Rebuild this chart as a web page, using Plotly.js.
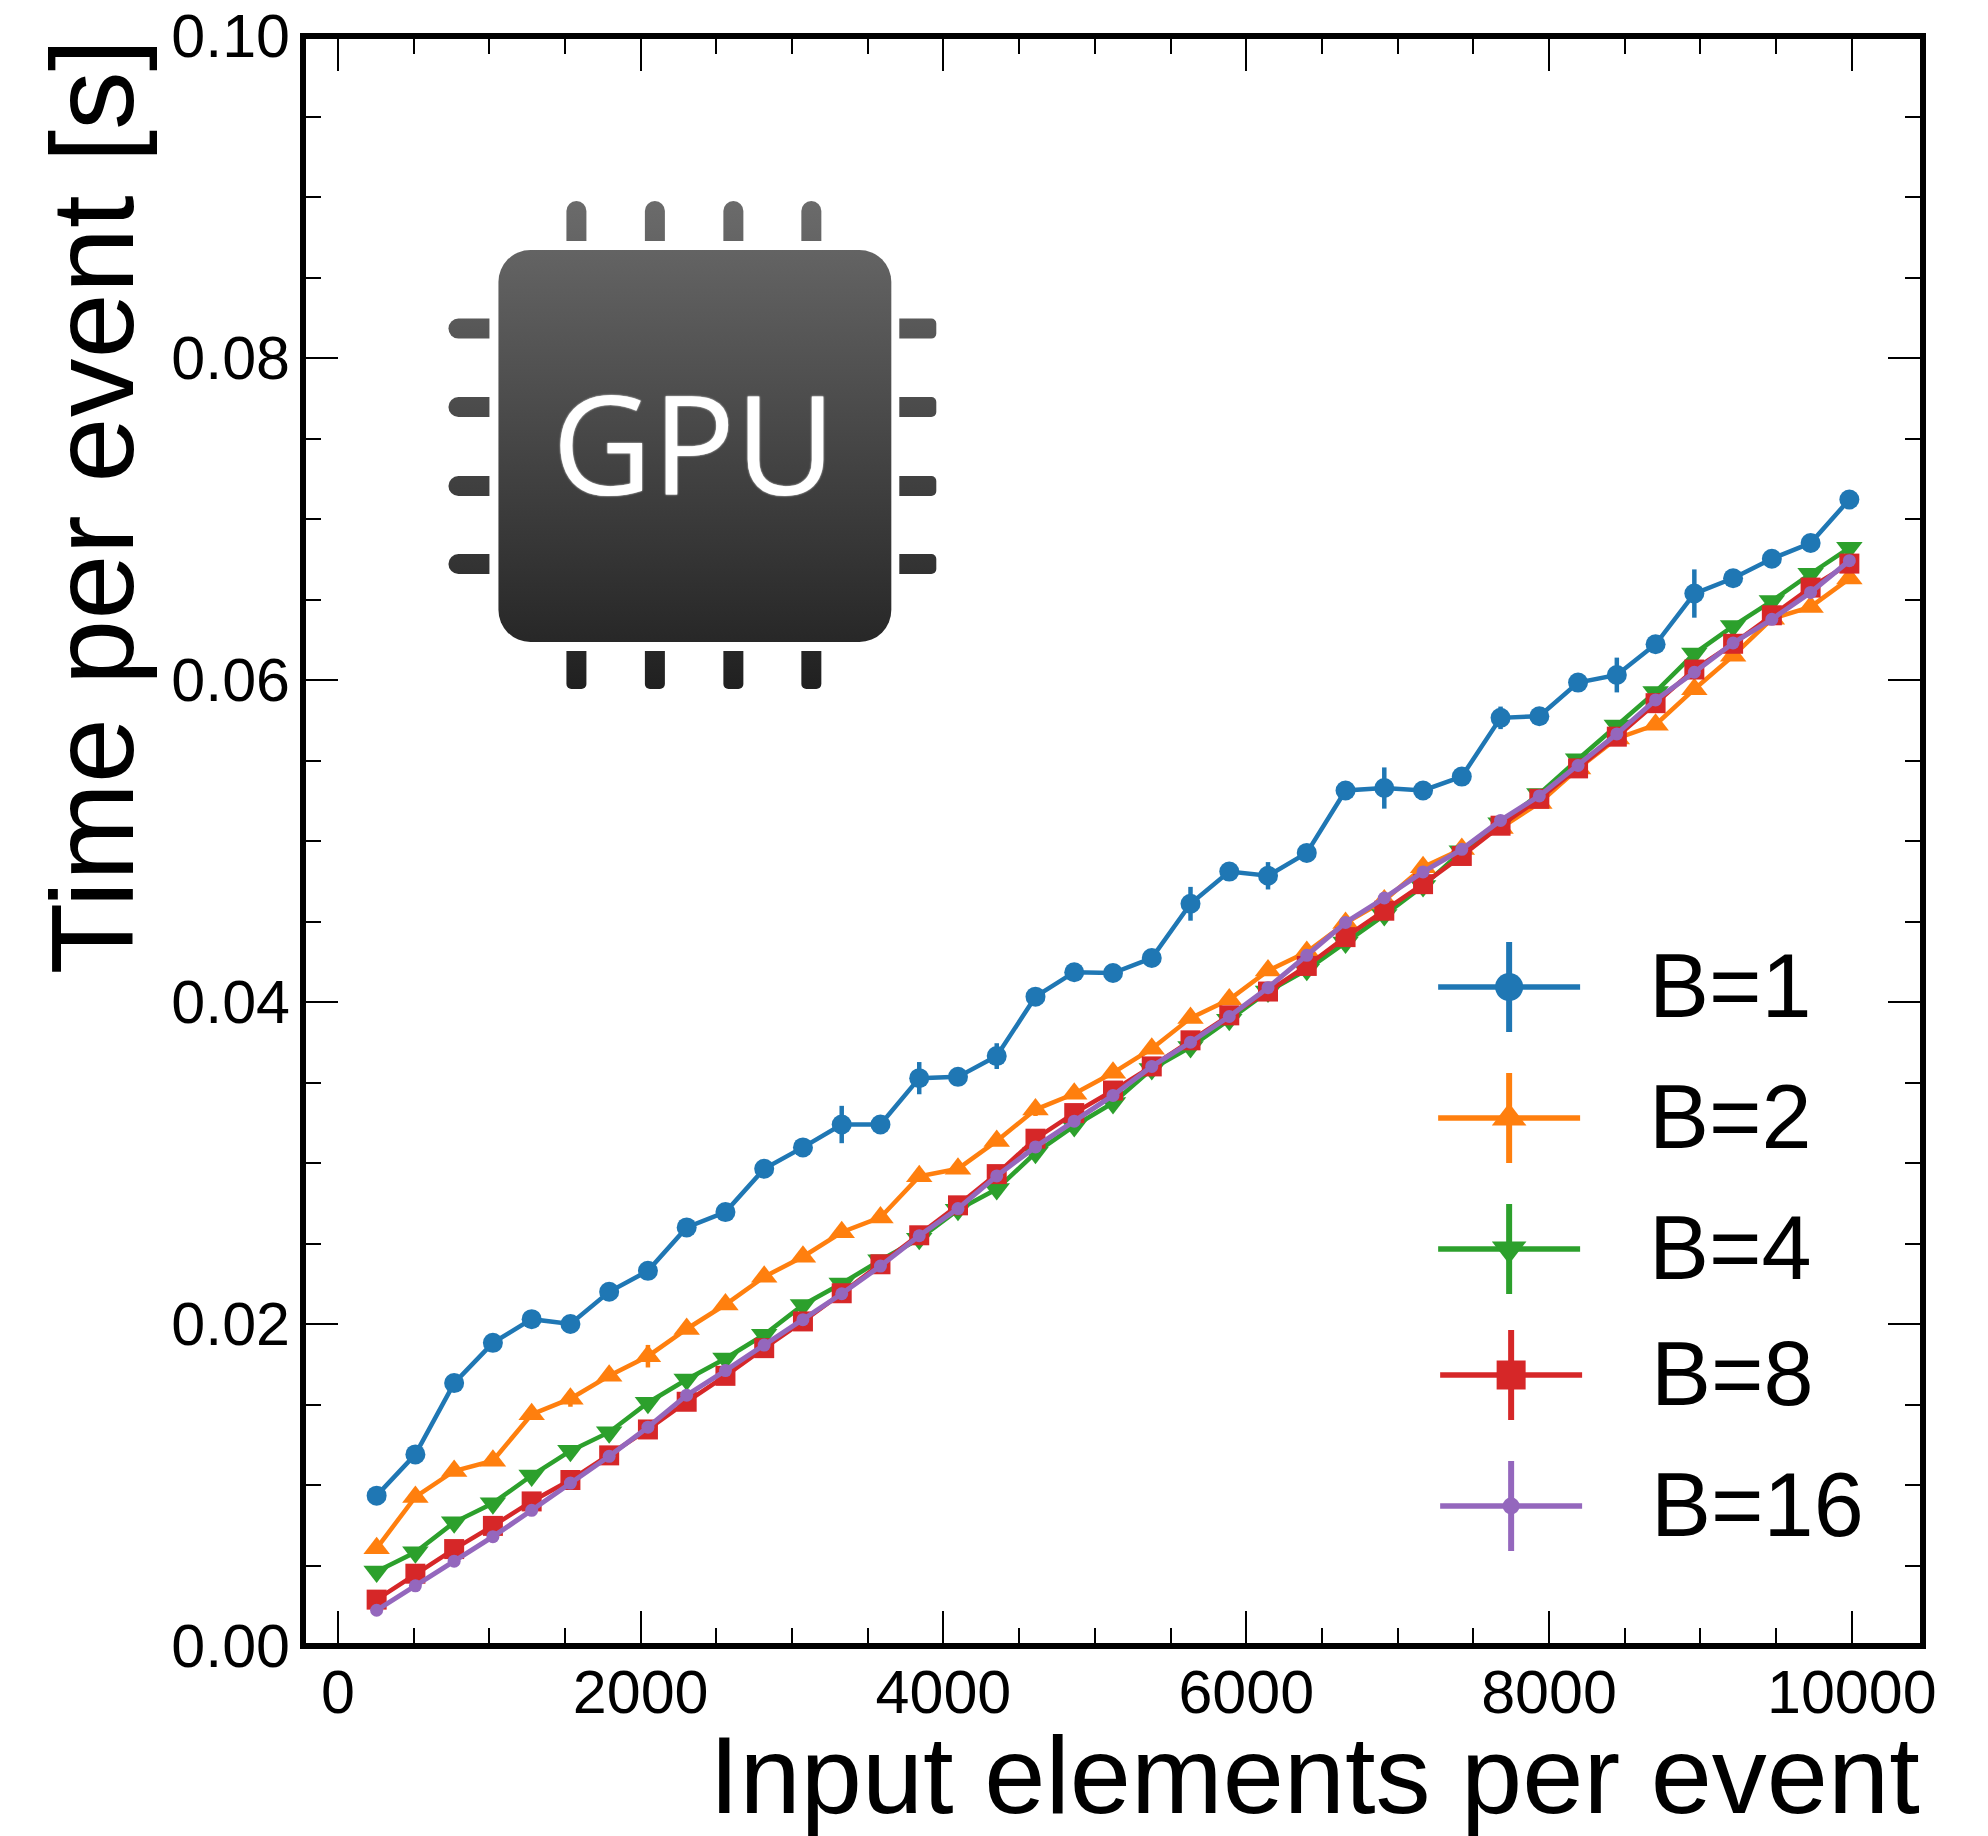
<!DOCTYPE html>
<html><head><meta charset="utf-8">
<script src="https://cdn.plot.ly/plotly-3.0.1.min.js"></script>
<style>html,body{margin:0;padding:0;background:#fff}</style></head>
<body><div id="chart" style="width:1988px;height:1836px"></div>
<script>
const inputElements=[256,512,768,1024,1280,1536,1792,2048,2304,2560,2816,3072,3328,3584,3840,4096,4352,4608,4864,5120,5376,5632,5888,6144,6400,6656,6912,7168,7424,7680,7936,8192,8448,8704,8960,9216,9472,9728,9984];
const seriesNames=['B=1','B=2','B=4','B=8','B=16'];
const b1=[.00934,.0119,.01633,.01883,.0203,.0200,.0220,.0233,.0260,.02695,.02964,.03097,.03239,.03239,.03527,.03535,.03664,.04033,.04185,.0418,.04273,.0461,.0481,.04784,.04926,.05314,.05329,.05314,.054,.05765,.05775,.05984,.06031,.06222,.06537,.06632,.06753,.06851,.07121];
const b1err=[.0002,.0002,.0002,.0002,.0002,.0002,.0002,.0002,.0003,.0002,.0002,.0002,.00116,.0002,.001,.0002,.0008,.0002,.0002,.0002,.0002,.00105,.0003,.00085,.0002,.0003,.00128,.0002,.0002,.0007,.0002,.0002,.00108,.0002,.0015,.0002,.0002,.0002,.0002];
const b2=[.00607,.00926,.01087,.01151,.01439,.01536,.01678,.0180,.01969,.02121,.02293,.02418,.0257,.02662,.02917,.02964,.03137,.03332,.0343,.0356,.0371,.039,.04015,.04195,.0431,.0449,.0463,.04837,.0495,.0508,.05236,.0545,.05637,.05722,.05943,.0615,.0638,.06454,.0663];
const b2err=[.0002,.0002,.0002,.0002,.0002,.0005,.0002,.0007,.0002,.0002,.0002,.0002,.0002,.0002,.0002,.0002,.0002,.0004,.0002,.0002,.0002,.0002,.0002,.0002,.0002,.0002,.0002,.0002,.0002,.0002,.0002,.0002,.0002,.0002,.0002,.0002,.0002,.0002,.0002];
const b4=[.00463,.00582,.00768,.00887,.01059,.01212,.01328,.01511,.01655,.01786,.01933,.02118,.02252,.02396,.02529,.02709,.02838,.03063,.0323,.03373,.03584,.0372,.0389,.04065,.042,.0437,.0454,.0472,.04937,.0511,.05292,.05508,.05717,.05926,.06164,.06335,.0649,.0666,.06821];
const b8=[.00288,.00449,.00602,.00746,.00898,.01031,.01184,.01345,.01517,.01678,.0185,.02016,.02191,.02371,.02551,.02737,.02931,.03151,.0331,.0345,.036,.03762,.03917,.04065,.04224,.04403,.04567,.04732,.04907,.05095,.05262,.05451,.05648,.05856,.06065,.06225,.06402,.06574,.06723];
const b16=[.00222,.00374,.00527,.00679,.00843,.01012,.01178,.01359,.01558,.01711,.01869,.02027,.02188,.0236,.02548,.02717,.0292,.0310,.0326,.0342,.0360,.0375,.0391,.04089,.0429,.04494,.04646,.04808,.04948,.05128,.0528,.05469,.05665,.05876,.06048,.0623,.06377,.06544,.06741];
const smallErr=inputElements.map(()=>0.0002);

const colors=['#1f77b4','#ff7f0e','#2ca02c','#d62728','#9467bd'];
const symbols=['circle','triangle-up','triangle-down','square','circle'];
const sizes=[20,23,23,20,13];
const legendSizes=[28,30,30,29,17];
const lineWidths=[4.5,4.5,4.5,4.5,5];
const values=[b1,b2,b4,b8,b16];
const errors=[b1err,b2err,smallErr,smallErr,smallErr];

const L=302.5,R=1923,T=36,B=1646;
const px=x=>(x-L)/(R-L), py=y=>(B-y)/(B-T);

const traces=values.map((v,i)=>({
  x:inputElements,y:v,type:'scatter',mode:'lines+markers',name:seriesNames[i],showlegend:false,
  line:{color:colors[i],width:lineWidths[i]},
  marker:{color:colors[i],symbol:symbols[i],size:sizes[i],line:{width:0}},
  error_y:{type:'data',array:errors[i],visible:true,color:colors[i],thickness:4.5,width:0}
}));

const legendRows=[987,1118,1249,1375,1506];
const legendCx=[1509,1509,1509,1511,1511];
const legendTx=[1647,1647,1647,1649,1649];
seriesNames.forEach((n,i)=>traces.push({
  x:[legendCx[i]],y:[legendRows[i]],xaxis:'x2',yaxis:'y2',type:'scatter',mode:'markers',name:n,showlegend:false,
  marker:{color:colors[i],symbol:symbols[i],size:legendSizes[i],line:{width:0}},
  error_x:{type:'constant',value:71,visible:true,color:colors[i],thickness:5.5,width:0},
  error_y:{type:'constant',value:45,visible:true,color:colors[i],thickness:6,width:0}
}));

const font='"Liberation Sans",Arial,sans-serif';
const annotations=seriesNames.map((n,i)=>({
  text:n,xref:'paper',yref:'paper',x:px(legendTx[i]),y:py(legendRows[i]-1),xanchor:'left',yanchor:'middle',
  showarrow:false,font:{family:font,size:90,color:'#000'}
}));
annotations.push({text:'Input elements per event',xref:'paper',yref:'paper',x:px(1922),y:py(1775),xanchor:'right',yanchor:'middle',showarrow:false,font:{family:font,size:110,color:'#000'}});
annotations.push({text:'Time per event [s]',xref:'paper',yref:'paper',x:px(91),y:py(37),xanchor:'center',yanchor:'top',textangle:-90,showarrow:false,font:{family:font,size:117.5,color:'#000'}});
annotations.push({text:'GPU',xref:'paper',yref:'paper',x:px(694),y:py(441),xanchor:'center',yanchor:'middle',showarrow:false,font:{family:'"Open Sans",sans-serif',size:138,weight:500,color:'#fff',shadow:'0 0 2px #fff'}});

const pinsTop=[576,654.5,733,811], pinsSide=[328.6,407,486,564];
const ox=440, oy=195;
let pins='';
pinsTop.forEach(x=>{const a=x-10-ox;
  pins+=`<path d="M${a} ${241-oy}V${211-oy}a10 10 0 0 1 20 0V${241-oy}Z"/>`;
  pins+=`<path d="M${a} ${651-oy}H${a+20}V${684-oy}a5 5 0 0 1 -5 5H${a+5}a5 5 0 0 1 -5 -5Z"/>`;});
pinsSide.forEach(y=>{const b=y-10-oy;
  pins+=`<path d="M${489-ox} ${b}H${458-ox}a10 10 0 0 0 0 20H${489-ox}Z"/>`;
  pins+=`<path d="M${899-ox} ${b}H${931-ox}a5 5 0 0 1 5 5V${b+15}a5 5 0 0 1 -5 5H${899-ox}Z"/>`;});
const svg=`<svg xmlns="http://www.w3.org/2000/svg" width="505" height="500" viewBox="0 0 505 500"><defs><linearGradient id="g" gradientUnits="userSpaceOnUse" x1="0" y1="5" x2="0" y2="495"><stop offset="0" stop-color="#6b6b6b"/><stop offset="1" stop-color="#202020"/></linearGradient></defs><g fill="url(#g)">${pins}<rect x="${498-ox}" y="${250-oy}" width="393" height="392" rx="32"/></g></svg>`;
const chipImage='data:image/svg+xml;base64,'+btoa(svg);

const axisBase={showgrid:false,zeroline:false,showline:false,ticks:'inside',tickcolor:'#000',tickwidth:2,
  tickfont:{family:font,size:61,color:'#000'},automargin:false};
const layout={
  width:1988,height:1836,paper_bgcolor:'#fff',plot_bgcolor:'#fff',showlegend:false,
  margin:{l:L,r:1988-R,t:T,b:1836-B,pad:0},
  xaxis:Object.assign({},axisBase,{range:[-230.4,10470.4],tick0:0,dtick:2000,ticklen:35,mirror:'ticks',tickformat:'d',ticklabelstandoff:5,
    minor:{dtick:500,tick0:0,ticks:'inside',ticklen:18,tickwidth:2,tickcolor:'#000',showgrid:false}}),
  yaxis:Object.assign({},axisBase,{range:[0,0.1],tick0:0,dtick:0.02,ticklen:35,mirror:'ticks',tickformat:'.2f',ticklabelstandoff:12,
    minor:{dtick:0.005,tick0:0,ticks:'inside',ticklen:18,tickwidth:2,tickcolor:'#000',showgrid:false}}),
  xaxis2:{overlaying:'x',range:[L,R],visible:false,anchor:'y2'},
  yaxis2:{overlaying:'y',range:[B,T],visible:false,anchor:'x2'},
  annotations:annotations,
  shapes:[{type:'rect',xref:'paper',yref:'paper',x0:0,x1:1,y0:0,y1:1,line:{color:'#000',width:6},fillcolor:'rgba(0,0,0,0)',layer:'above'}],
  images:[{source:chipImage,xref:'paper',yref:'paper',x:px(ox),y:py(oy),sizex:505/(R-L),sizey:500/(B-T),sizing:'stretch',xanchor:'left',yanchor:'top',layer:'below'}]
};
Plotly.newPlot('chart',traces,layout,{displayModeBar:false,staticPlot:true});
</script></body></html>
